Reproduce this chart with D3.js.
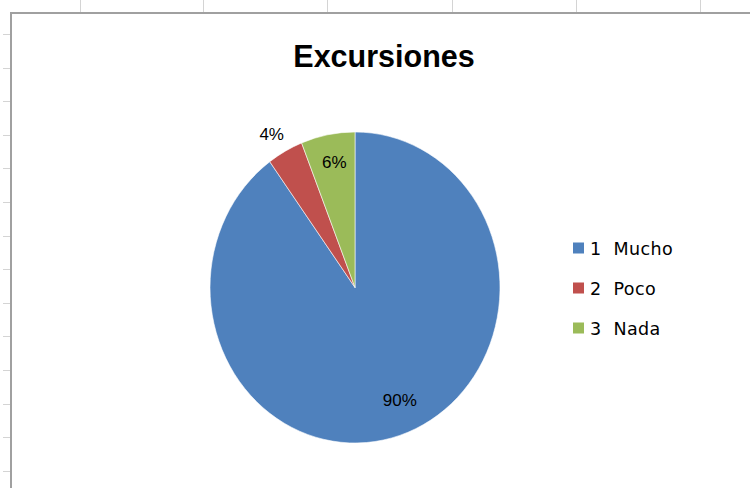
<!DOCTYPE html>
<html>
<head>
<meta charset="utf-8">
<script src="https://cdn.jsdelivr.net/npm/d3@7"></script>
<style>
  html, body { margin: 0; padding: 0; background: #ffffff; }
  svg { display: block; }
</style>
</head>
<body>
<svg id="chart" width="750" height="488"></svg>
<script>
// ---- data ----
const title = "Excursiones";
const categories = ["1  Mucho", "2  Poco", "3  Nada"];
const values = [90, 4, 6];
const labels = ["90%", "4%", "6%"];
const colors = ["#4f81bd", "#c0504d", "#9bbb59"];

// ---- layout ----
const W = 750, H = 488;
const svg = d3.select("#chart");
const font = "'Liberation Sans', Arial, sans-serif";
const legendFont = "'DejaVu Sans', sans-serif";

// spreadsheet background cues
const colLines = [80, 203, 327, 452, 576, 700];
svg.selectAll("line.col").data(colLines).join("line")
  .attr("x1", d => d + 0.5).attr("x2", d => d + 0.5)
  .attr("y1", 0).attr("y2", 13)
  .attr("stroke", "#d4d4d4").attr("stroke-width", 1);
const rowLines = d3.range(14).map(i => 34 + i * 33.6);
svg.selectAll("line.row").data(rowLines).join("line")
  .attr("x1", 3).attr("x2", 11)
  .attr("y1", d => Math.round(d) + 0.5).attr("y2", d => Math.round(d) + 0.5)
  .attr("stroke", "#d4d4d4").attr("stroke-width", 1);

// chart area
svg.append("rect")
  .attr("x", 11).attr("y", 13)
  .attr("width", W + 10).attr("height", H + 10)
  .attr("fill", "#ffffff")
  .attr("stroke", "#a0a0a0").attr("stroke-width", 2);

// title
svg.append("text")
  .attr("x", 384).attr("y", 67)
  .attr("text-anchor", "middle")
  .attr("font-family", font)
  .attr("font-weight", "bold")
  .attr("font-size", 30.5)
  .attr("fill", "#000")
  .text(title);

// pie (slightly elliptical as in reference)
const cx = 355, cy = 287.5, ry = 155.5, rx = 145;
const pie = d3.pie().sort(null).value(d => d);
const arcs = pie(values);
const arc = d3.arc().innerRadius(0).outerRadius(ry);

const g = svg.append("g")
  .attr("transform", `translate(${cx},${cy}) scale(${rx / ry},1)`);
g.selectAll("path").data(arcs).join("path")
  .attr("d", arc)
  .attr("fill", (d, i) => colors[i])
  .attr("stroke", "#ffffff")
  .attr("stroke-width", 0.6);

// data labels (best-fit style: small slices outside)
const inside = d3.arc().innerRadius(ry * 0.8).outerRadius(ry * 0.8);
const outside = d3.arc().innerRadius(ry * 1.15).outerRadius(ry * 1.15);
const nudges = [[9, -6], [-3, 3], [1, -3]];
svg.selectAll("text.lbl").data(arcs).join("text")
  .attr("class", "lbl")
  .each(function (d, i) {
    const c = (d.data < 5 ? outside : inside).centroid(d);
    d3.select(this)
      .attr("x", cx + c[0] * rx / ry + nudges[i][0])
      .attr("y", cy + c[1] + 6 + nudges[i][1]);
  })
  .attr("text-anchor", "middle")
  .attr("font-family", font)
  .attr("font-size", 17)
  .attr("fill", "#000")
  .text((d, i) => labels[i]);

// legend
const legY = d3.scalePoint().domain(categories).range([248, 328]);
const leg = svg.append("g");
leg.selectAll("rect").data(categories).join("rect")
  .attr("x", 573).attr("y", d => legY(d) - 5.5)
  .attr("width", 11).attr("height", 11)
  .attr("fill", (d, i) => colors[i]);
leg.selectAll("text").data(categories).join("text")
  .attr("x", 590).attr("y", d => legY(d) + 6.5)
  .attr("font-family", legendFont)
  .attr("font-size", 17.5)
  .attr("letter-spacing", 0.4)
  .attr("xml:space", "preserve")
  .style("white-space", "pre")
  .attr("fill", "#000")
  .text(d => d);
</script>
</body>
</html>
